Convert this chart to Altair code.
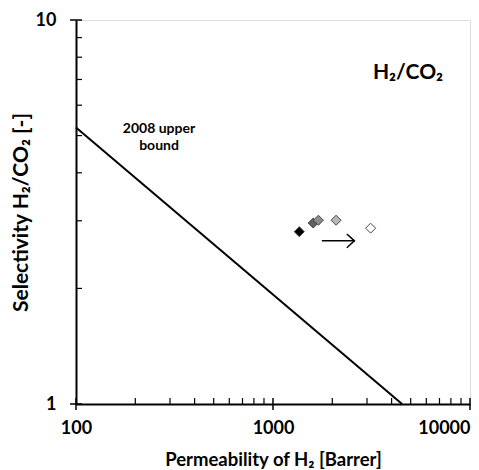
import altair as alt
import pandas as pd

# Data points (permeability of H2, selectivity H2/CO2)
perm = [1360, 1600, 1700, 2090, 3130]
sel = [2.81, 2.96, 3.01, 3.01, 2.87]
fills = ["#000000", "#606060", "#8c8c8c", "#b8b8b8", "#ffffff"]

# 2008 upper bound line
bound_perm = [100, 4520]
bound_sel = [5.25, 1.0]

# Arrow
arrow_perm = [1770, 2590]
arrow_sel = [2.66, 2.66]

# Axis ticks
x_major = [100, 1000, 10000]
x_minor = [200, 300, 400, 500, 600, 700, 800, 900,
           2000, 3000, 4000, 5000, 6000, 7000, 8000, 9000]
y_major = [1, 10]
y_minor = [2, 3, 4, 5, 6, 7, 8, 9]

FONT = "Lato"
W, H = 394, 384

xs = alt.Scale(type="log", domain=[100, 10000], nice=False)
ys = alt.Scale(type="log", domain=[1, 10], nice=False)

xaxis = alt.Axis(values=x_major, format="d", ticks=False, tickSize=0, grid=False,
                 domainColor="black", domainWidth=2,
                 labelFont=FONT, labelFontWeight="bold", labelFontSize=18, labelColor="black",
                 labelPadding=15,
                 labelAlign=alt.ExprRef(expr="datum.value >= 10000 ? 'right' : 'center'"),
                 title="Permeability of H₂ [Barrer]", titleFont=FONT, titleFontWeight="bold",
                 titleFontSize=18.5, titleColor="black", titlePadding=13)
yaxis = alt.Axis(values=y_major, format="d", ticks=False, tickSize=0, grid=False,
                 domainColor="black", domainWidth=2,
                 labelFont=FONT, labelFontWeight="bold", labelFontSize=18, labelColor="black",
                 labelPadding=20,
                 title="Selectivity H₂/CO₂ [-]", titleFont=FONT, titleFontWeight="bold",
                 titleFontSize=21, titleColor="black", titlePadding=4)


def X():
    return alt.X("x:Q", scale=xs, axis=xaxis)


def Y():
    return alt.Y("y:Q", scale=ys, axis=yaxis)


pts = pd.DataFrame({"x": perm, "y": sel, "fill": fills})
bound = pd.DataFrame({"x": bound_perm, "y": bound_sel})
arrow = pd.DataFrame({"x": arrow_perm, "y": arrow_sel})
xmaj = pd.DataFrame({"x": x_major})
xmin = pd.DataFrame({"x": x_minor})
ymaj = pd.DataFrame({"y": y_major})
ymin = pd.DataFrame({"y": y_minor})

bound_line = alt.Chart(bound).mark_line(color="black", strokeWidth=2).encode(x=X(), y=Y())

points = alt.Chart(pts).mark_point(shape="diamond", filled=True, size=100, stroke="#444444",
                                   strokeWidth=1, opacity=1).encode(
    x=X(), y=Y(), fill=alt.Fill("fill:N", scale=None))

arrow_line = alt.Chart(arrow).mark_line(color="black", strokeWidth=1.5).encode(x=X(), y=Y())
arrow_head = alt.Chart(arrow.iloc[[1]]).mark_point(
    shape="M -1.1 -1 L 0 0 L -1.1 1", filled=False, size=190, color="black", strokeWidth=1.5,
    opacity=1).encode(x=X(), y=Y())

xminor_t = alt.Chart(xmin).mark_rule(color="black", strokeWidth=1.2).encode(
    x=X(), y=alt.value(H - 6), y2=alt.value(H))
xmajor_t = alt.Chart(xmaj).mark_rule(color="black", strokeWidth=1.5).encode(
    x=X(), y=alt.value(H - 6), y2=alt.value(H + 6))
yminor_t = alt.Chart(ymin).mark_rule(color="black", strokeWidth=1.2).encode(
    y=Y(), x=alt.value(0), x2=alt.value(6))
ymajor_t = alt.Chart(ymaj).mark_rule(color="black", strokeWidth=1.5).encode(
    y=Y(), x=alt.value(-6), x2=alt.value(6))

bound_label = alt.Chart(pd.DataFrame({"t": [0]})).mark_text(
    text=["2008 upper", "bound"], font=FONT, fontWeight="bold", fontSize=14, color="black",
    align="center", baseline="middle", lineHeight=17).encode(
    x=alt.value(83), y=alt.value(109))

title_label = alt.Chart(pd.DataFrame({"t": [0]})).mark_text(
    text="H₂/CO₂", font=FONT, fontWeight="bold", fontSize=21, color="black",
    align="center", baseline="middle").encode(x=alt.value(332), y=alt.value(53))

chart = alt.layer(
    bound_line, xminor_t, xmajor_t, yminor_t, ymajor_t, arrow_line, arrow_head, points,
    bound_label, title_label
).properties(
    width=W, height=H,
    autosize=alt.AutoSizeParams(type="none"),
    padding={"left": 68, "top": 12, "right": 1, "bottom": 66},
).configure_view(stroke="black", strokeWidth=1.5).configure(background="white")

chart.save("out.html", embed_options={"renderer": "svg", "actions": False})
